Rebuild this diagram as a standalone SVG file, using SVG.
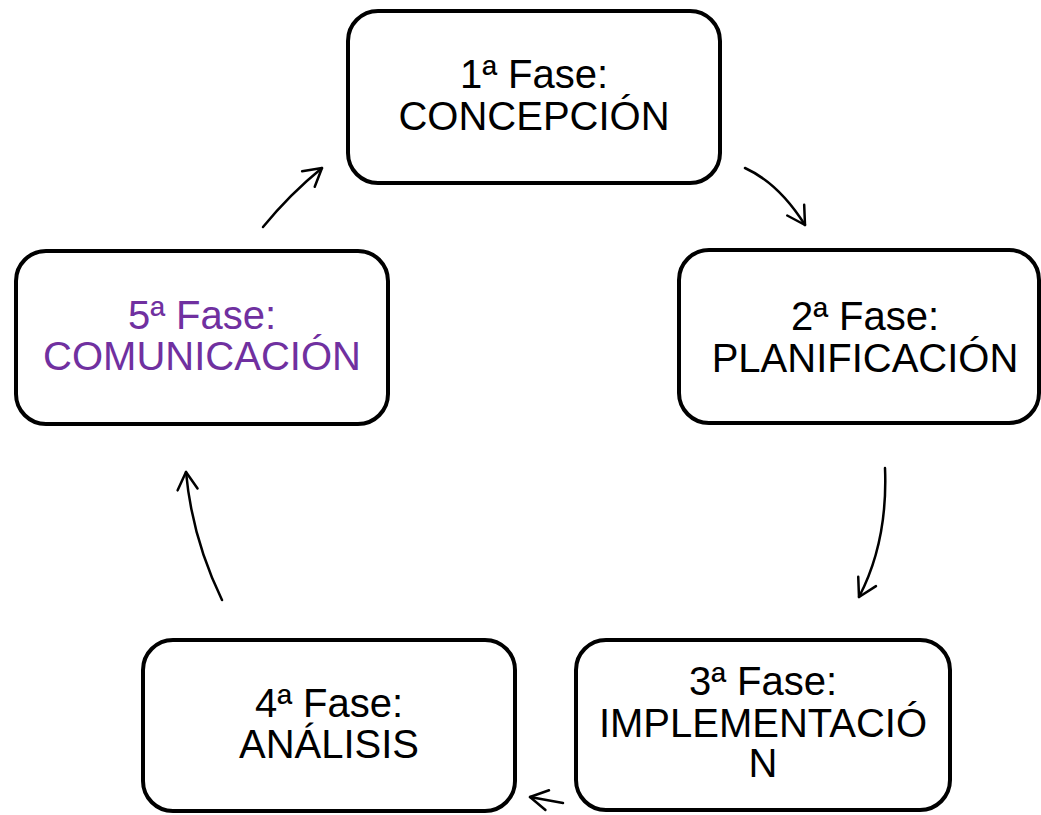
<svg xmlns="http://www.w3.org/2000/svg" width="1041" height="815" viewBox="0 0 1041 815">
<style>
.box{fill:#fff;stroke:#000;stroke-width:4}
.t{font-family:"Liberation Sans",Arial,sans-serif;font-size:40px;text-anchor:middle;fill:#000}
.p{fill:#7030A0}
.c{fill:none;stroke:#000;stroke-width:2.5;stroke-linecap:round}
</style>
<defs>
<marker id="ah" markerUnits="userSpaceOnUse" markerWidth="40" markerHeight="40" viewBox="-30 -20 40 40" refX="0" refY="0" orient="auto" overflow="visible">
<path d="M-17.5,-10 L0,0 L-17.5,10" fill="none" stroke="#000" stroke-width="2.5" stroke-linecap="round" stroke-linejoin="round"/>
</marker>
</defs>
<rect width="1041" height="815" fill="#fff"/>
<g id="connectors">
<path class="c" d="M263,227 Q290,194 322,168" marker-end="url(#ah)"/>
<path class="c" d="M745,168 Q779,183.5 805,225" marker-end="url(#ah)"/>
<path class="c" d="M885,468 Q888,541.5 859,597" marker-end="url(#ah)"/>
<path class="c" d="M563,803 L530,797" marker-end="url(#ah)"/>
<path class="c" d="M222,600 Q192,538 186,472" marker-end="url(#ah)"/>
</g>
<g id="node1">
<rect class="box" x="348" y="11" width="372" height="172" rx="30"/>
<text class="t" x="534" y="88">1ª Fase:</text>
<text class="t" x="534" y="130">CONCEPCIÓN</text>
</g>
<g id="node2">
<rect class="box" x="679" y="250" width="360" height="173" rx="30"/>
<text class="t" x="865" y="330">2ª Fase:</text>
<text class="t" x="865" y="372">PLANIFICACIÓN</text>
</g>
<g id="node3">
<rect class="box" x="576" y="640" width="374" height="170" rx="30"/>
<text class="t" x="763" y="695">3ª Fase:</text>
<text class="t" x="763" y="737">IMPLEMENTACIÓ</text>
<text class="t" x="763" y="777">N</text>
</g>
<g id="node4">
<rect class="box" x="143" y="640" width="372" height="171" rx="30"/>
<text class="t" x="329" y="717">4ª Fase:</text>
<text class="t" x="329" y="758">ANÁLISIS</text>
</g>
<g id="node5">
<rect class="box" x="16" y="251" width="372" height="173" rx="30"/>
<text class="t p" x="202" y="329">5ª Fase:</text>
<text class="t p" x="202" y="370">COMUNICACIÓN</text>
</g>
</svg>
